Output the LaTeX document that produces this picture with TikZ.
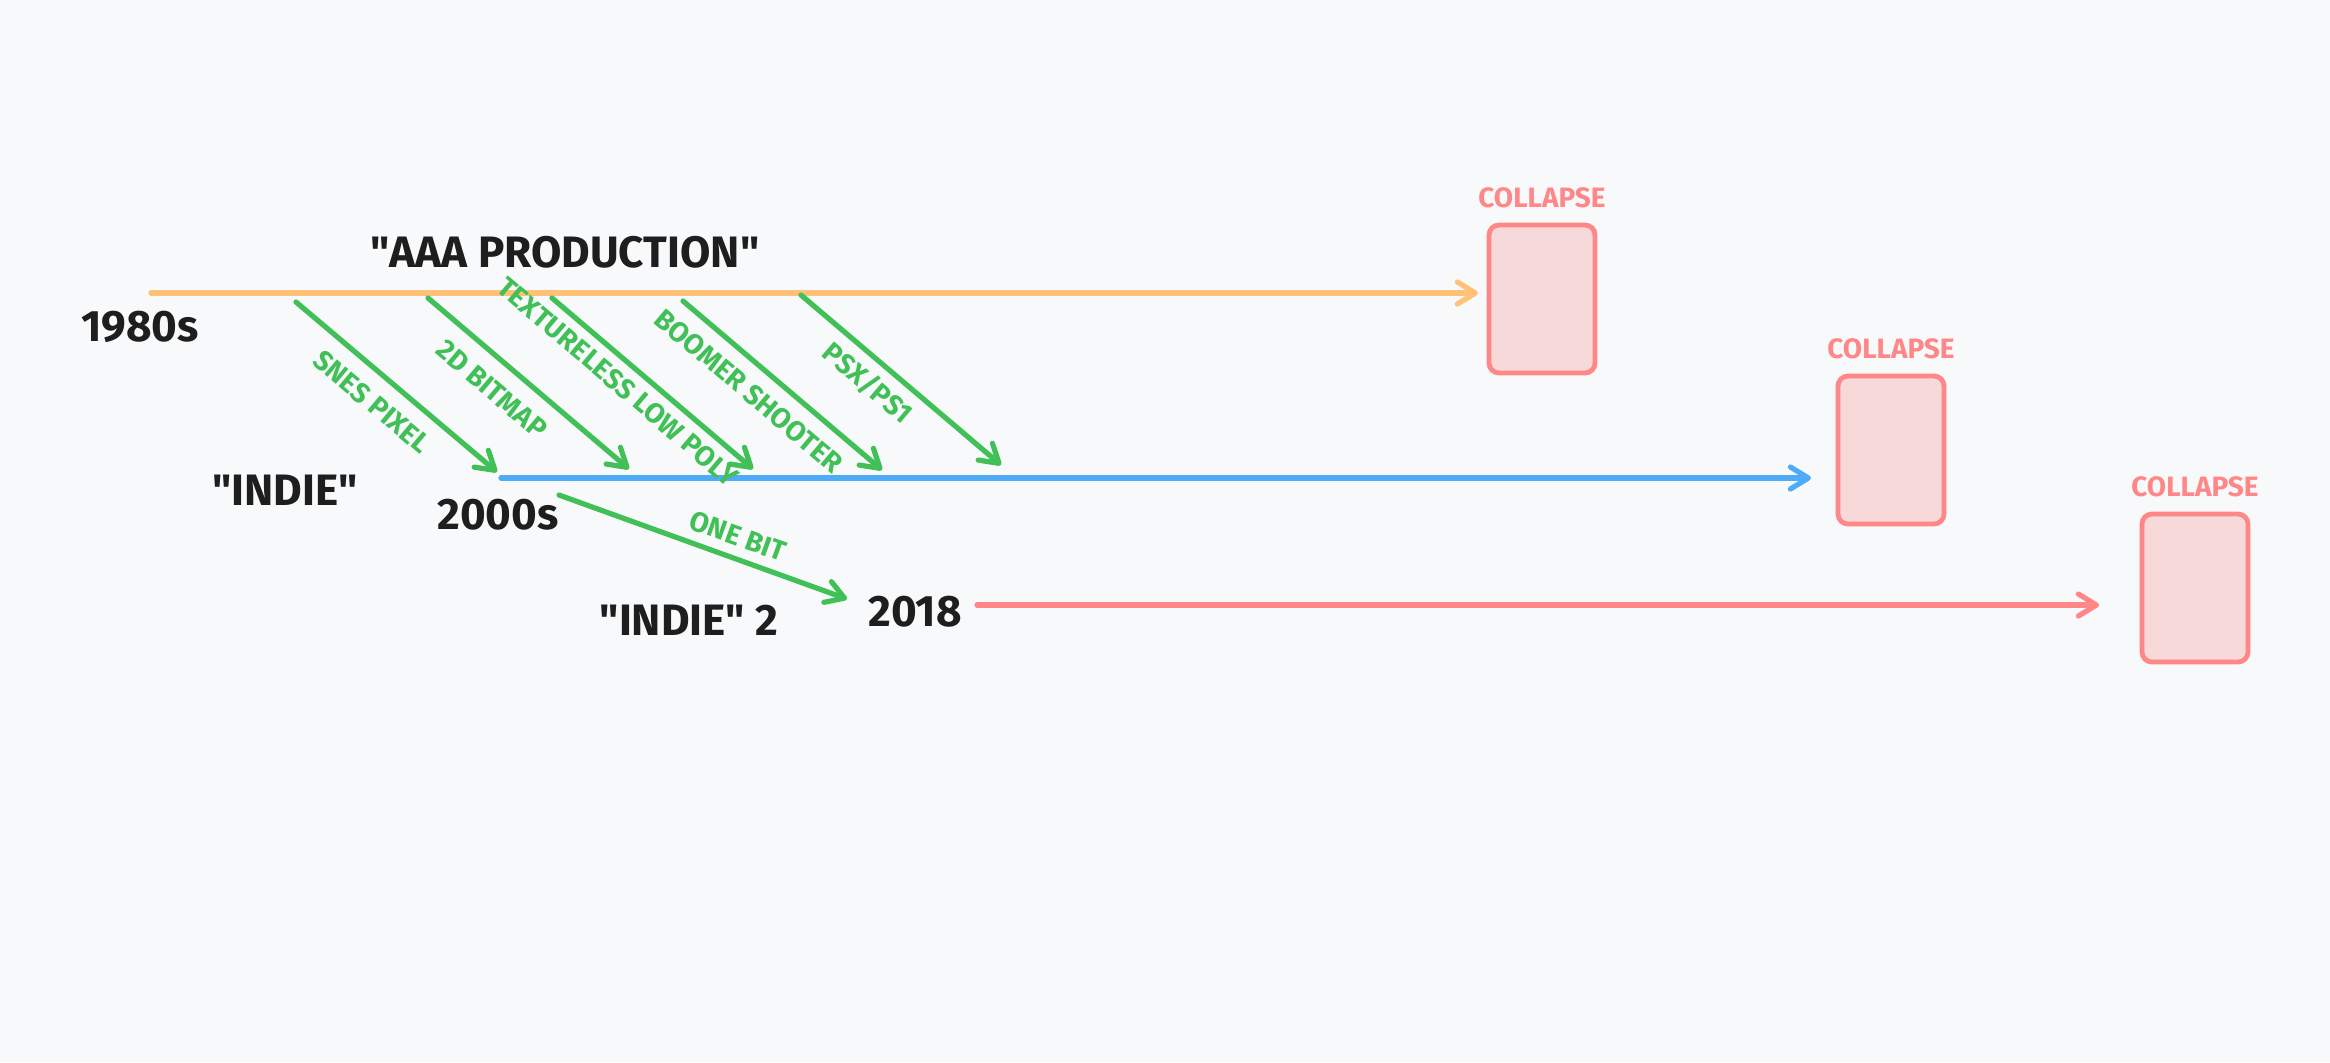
\documentclass[tikz,border=0pt]{standalone}
\usepackage{fontspec}
\setmainfont{Fira Sans}
\usetikzlibrary{arrows.meta,positioning}
\definecolor{bgcol}{HTML}{F8F9FA}
\definecolor{inkcol}{HTML}{1E1E1E}
\definecolor{aaacol}{HTML}{FFC078}
\definecolor{indiecol}{HTML}{4DABF7}
\definecolor{redcol}{HTML}{FF8787}
\definecolor{boxfill}{HTML}{F7D9DA}
\definecolor{genrecol}{HTML}{40C057}
\tikzstyle{era} = [font=\fontsize{22}{26}\selectfont\bfseries, text=inkcol, inner sep=0pt]
\tikzstyle{genre} = [font=\fontsize{14}{16}\selectfont\bfseries, text=genrecol, inner sep=0pt]
\tikzstyle{endbox} = [draw=redcol, fill=boxfill, line width=2.4pt, rounded corners=5pt, minimum width=53pt, minimum height=74pt]
\tikzstyle{tag} = [font=\fontsize{14}{16}\selectfont\bfseries, text=redcol, inner sep=0pt]
\tikzstyle{line} = [line width=2.6pt, line cap=round, -{Straight Barb[length=9pt,width=11pt,line cap=round,line join=round]}]

\begin{document}
\begin{tikzpicture}[x=0.5pt,y=-0.5pt]
  \fill[bgcol] (0,0) rectangle (2330,1062);

  % collapse boxes
  \node[endbox] (box1) at (1542,299) {};
  \node[endbox] (box2) at (1891,450) {};
  \node[endbox] (box3) at (2195,588) {};
  \node[tag, above=7pt of box1] (tag1) {COLLAPSE};
  \node[tag, above=7pt of box2] (tag2) {COLLAPSE};
  \node[tag, above=7pt of box3] (tag3) {COLLAPSE};

  % era labels
  \node[era] (aaa) at (565,252) {\textquotedbl AAA PRODUCTION\textquotedbl};
  \node[era] (y80) at (140,327) {1980s};
  \node[era] (indie) at (285,490) {\textquotedbl INDIE\textquotedbl};
  \node[era] (y00) at (498,515) {2000s};
  \node[era] (indie2) at (689,620) {\textquotedbl INDIE\textquotedbl{} 2};
  \node[era] (y18) at (915,612) {2018};

  % timelines
  \coordinate (aaa-s) at (151,293);
  \coordinate (aaa-e) at (1478,293);
  \coordinate (indie-s) at (501,478);
  \coordinate (indie-e) at (1811,478);
  \coordinate (indie2-s) at (977,605);
  \coordinate (indie2-e) at (2099,605);

  \draw[line, aaacol] (aaa-s) -- (aaa-e);
  \draw[line, indiecol] (indie-s) -- (indie-e);
  \draw[line, redcol] (indie2-s) -- (indie2-e);

  % genres
  \coordinate (g1-s) at (296,302);
  \coordinate (g1-e) at (497,472);
  \coordinate (g2-s) at (428,298);
  \coordinate (g2-e) at (629,469);
  \coordinate (g3-s) at (552,298);
  \coordinate (g3-e) at (753,469);
  \coordinate (g4-s) at (683,301);
  \coordinate (g4-e) at (882,470);
  \coordinate (g5-s) at (801,295);
  \coordinate (g5-e) at (1001,465);
  \coordinate (g6-s) at (559,495);
  \coordinate (g6-e) at (847,599);

  \draw[line, genrecol] (g1-s) -- (g1-e);
  \draw[line, genrecol] (g2-s) -- (g2-e);
  \draw[line, genrecol] (g3-s) -- (g3-e);
  \draw[line, genrecol] (g4-s) -- (g4-e);
  \draw[line, genrecol] (g5-s) -- (g5-e);
  \draw[line, genrecol] (g6-s) -- (g6-e);

  \node[genre, rotate=-40.2] (snes) at (372,402) {SNES PIXEL};
  \node[genre, rotate=-40.4] (bitmap) at (492,389) {2D BITMAP};
  \node[genre, rotate=-40.4] (lowpoly) at (618,382) {TEXTURELESS LOW POLY};
  \node[genre, rotate=-40.3] (boomer) at (749,391) {BOOMER SHOOTER};
  \node[genre, rotate=-40.4] (psx) at (868,383) {PSX/PS1};
  \node[genre, rotate=-19.9] (onebit) at (738,536) {ONE BIT};
\end{tikzpicture}
\end{document}
